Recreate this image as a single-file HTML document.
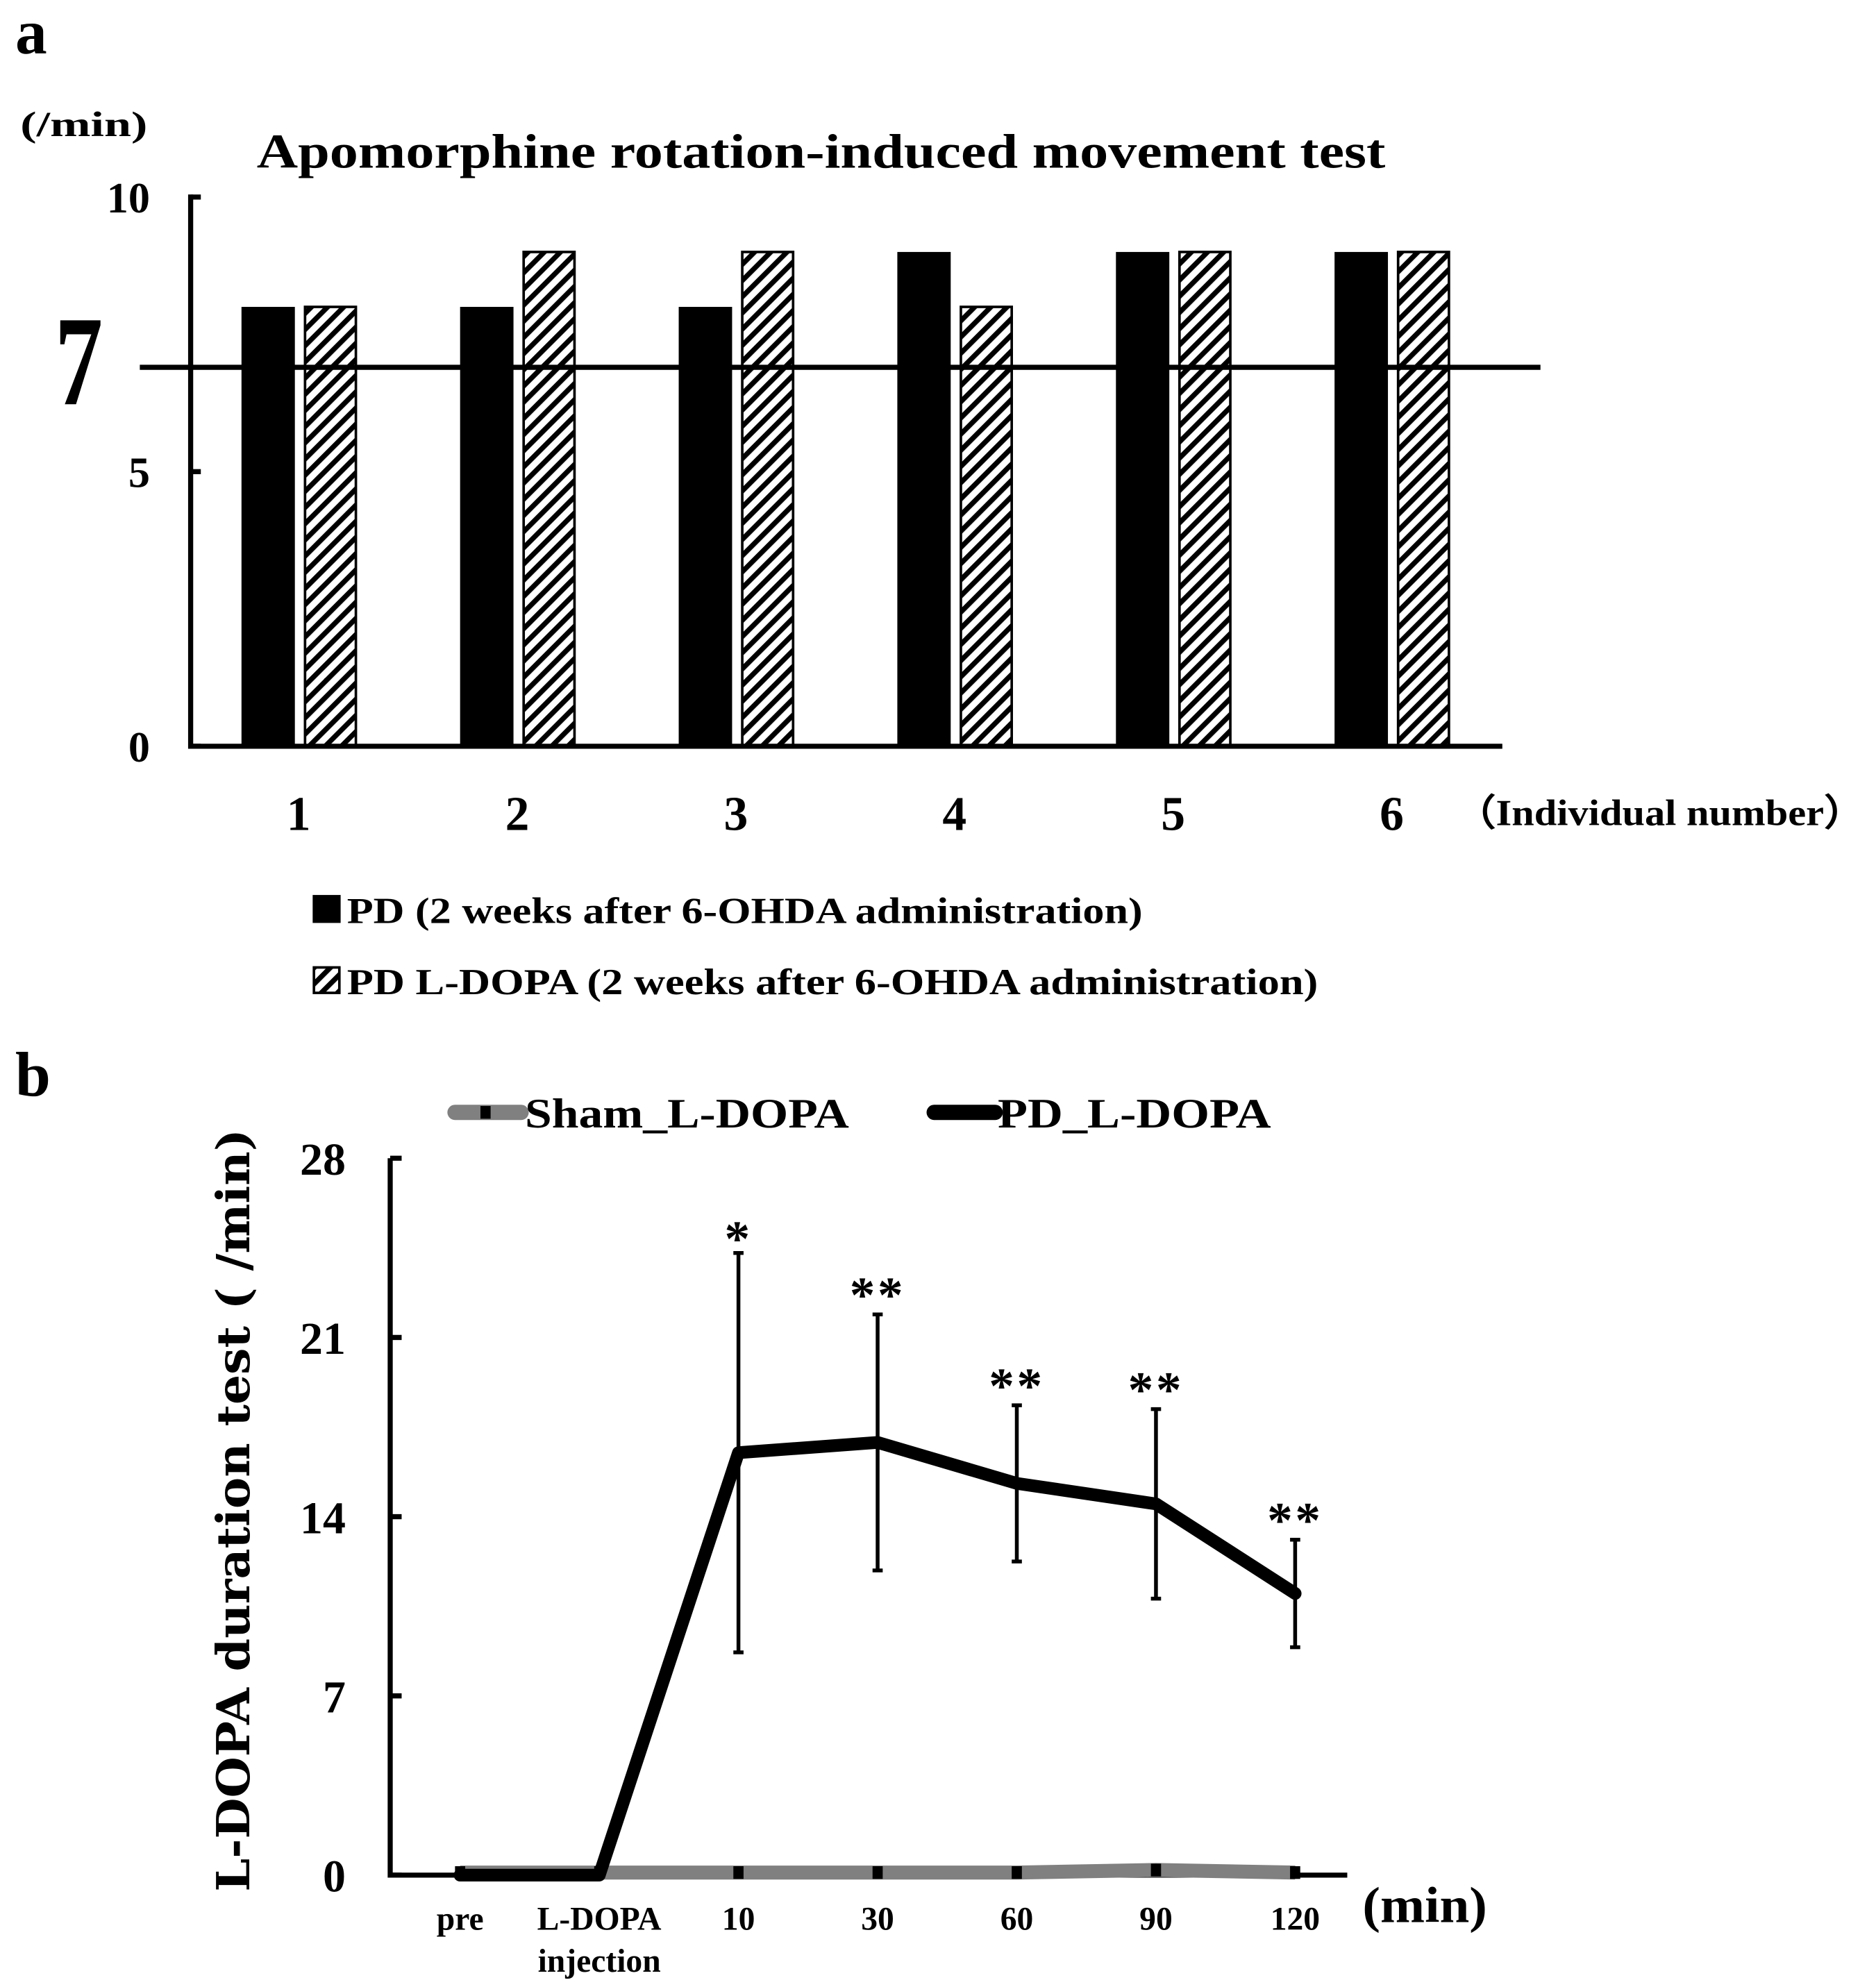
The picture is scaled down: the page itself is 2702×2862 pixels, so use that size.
<!DOCTYPE html>
<html><head><meta charset="utf-8"><style>
html,body{margin:0;padding:0;background:#fff}
svg{display:block}
text{font-family:"Liberation Serif",serif;font-weight:bold;fill:#000}
</style></head><body>
<svg id="fig" width="2702" height="2862" viewBox="0 0 1476 1563" preserveAspectRatio="none" xmlns="http://www.w3.org/2000/svg">
<defs>
<pattern id="hatch" patternUnits="userSpaceOnUse" width="9" height="9" patternTransform="rotate(45)">
<rect width="9" height="9" fill="#fff"/><rect width="4" height="9" fill="#000"/>
</pattern>
</defs>
<text x="12" y="42" font-size="50">a</text>
<text x="12" y="862" font-size="50">b</text>
<g id="pa">
<text x="16" y="107" font-size="28" textLength="100" lengthAdjust="spacingAndGlyphs">(/min)</text>
<text x="646" y="132" font-size="38" text-anchor="middle" textLength="888" lengthAdjust="spacingAndGlyphs">Apomorphine rotation-induced movement test</text>
<text transform="translate(62,318) scale(0.9,1.2)" font-size="84" text-anchor="middle">7</text>
<text x="1145" y="649" font-size="29" textLength="322" lengthAdjust="spacingAndGlyphs">（Individual number）</text>
<rect x="246" y="704" width="22" height="22" fill="#000"/>
<text x="273" y="726" font-size="29" textLength="626" lengthAdjust="spacingAndGlyphs">PD (2 weeks after 6-OHDA administration)</text>
<rect x="247" y="761" width="20" height="20" fill="url(#hatch)" stroke="#000" stroke-width="2"/>
<text x="273" y="782" font-size="29" textLength="764" lengthAdjust="spacingAndGlyphs">PD L-DOPA (2 weeks after 6-OHDA administration)</text>
</g>
<g id="pb">
<text transform="translate(196,1188) rotate(-90)" font-size="36" text-anchor="middle" textLength="600" lengthAdjust="spacingAndGlyphs" style="font-family:'DejaVu Serif','Liberation Serif',serif">L-DOPA duration test ( /min)</text>
<text x="1072" y="1512" font-size="40" textLength="98" lengthAdjust="spacingAndGlyphs">(min)</text>
<line x1="358" y1="875" x2="410" y2="875" stroke="#808080" stroke-width="12" stroke-linecap="round"/>
<rect x="378" y="870" width="8" height="10" fill="#000"/>
<text x="413" y="887" font-size="33" textLength="255" lengthAdjust="spacingAndGlyphs">Sham_L-DOPA</text>
<line x1="735" y1="875" x2="783" y2="875" stroke="#000" stroke-width="12" stroke-linecap="round"/>
<text x="785" y="887" font-size="33" textLength="215" lengthAdjust="spacingAndGlyphs">PD_L-DOPA</text>
</g>
</svg>
<script>
const NS='http://www.w3.org/2000/svg';
// Panel a data
const individuals=['1','2','3','4','5','6'];
const pdValues=[8,8,8,9,9,9];
const pdLdopaValues=[8,9,9,8,9,9];
const aTicks=[0,5,10];
const threshold=6.9;
// Panel b data
const timeLabels=['pre','L-DOPA','10','30','60','90','120'];
const pdLine=[0,0,16.5,16.9,15.3,14.5,11.0];
const pdErr=[0,0,7.8,5.0,3.05,3.7,2.1];
const shamLine=[0.1,0.1,0.1,0.1,0.1,0.2,0.1];
const stars=['','','*','**','**','**','**'];
const bTicks=[0,7,14,21,28];

function mk(tag,attrs,parent){const e=document.createElementNS(NS,tag);for(const k in attrs)e.setAttribute(k,attrs[k]);parent.appendChild(e);return e;}
const pa=document.getElementById('pa'), pb=document.getElementById('pb');

const ay=v=>587-v*43.2;
const ax=i=>235+i*172;
let e;
individuals.forEach((lab,i)=>{
  e=mk('rect',{x:ax(i)-45,y:ay(pdValues[i]),width:42,height:587-ay(pdValues[i]),fill:'#000'},pa);
  
  
  e=mk('rect',{x:ax(i)+5,y:ay(pdLdopaValues[i]),width:40,height:587-ay(pdLdopaValues[i]),fill:'url(#hatch)',stroke:'#000','stroke-width':2},pa);
  
  
  e=mk('text',{x:ax(i),y:653,'font-size':38,'text-anchor':'middle'},pa);
  e.textContent=lab;
  
  
});
e=mk('line',{x1:110,y1:ay(threshold),x2:1212,y2:ay(threshold),stroke:'#000','stroke-width':4},pa);


e=mk('path',{d:`M150,${ay(10)-2} V587 H1182`,stroke:'#000','stroke-width':4,fill:'none'},pa);


aTicks.forEach(t=>{
  e=mk('line',{x1:150,y1:ay(t),x2:158,y2:ay(t),stroke:'#000','stroke-width':4},pa);
  
  
  e=mk('text',{x:118,y:ay(t)+12,'font-size':34,'text-anchor':'end'},pa);
  e.textContent=t;
  
  
});

const by=v=>1475-v*20.14;
const bx=i=>362+i*109.5;
e=mk('path',{d:`M307,${by(28)} V1475 H1060`,stroke:'#000','stroke-width':4,fill:'none'},pb);


bTicks.forEach(t=>{
  e=mk('line',{x1:307,y1:by(t),x2:316,y2:by(t),stroke:'#000','stroke-width':4},pb);
  
  
  e=mk('text',{x:272,y:by(t)+13,'font-size':36,'text-anchor':'end'},pb);
  e.textContent=t;
  
  
});
timeLabels.forEach((lab,i)=>{
  e=mk('text',{x:bx(i),y:1518,'font-size':26,'text-anchor':'middle'},pb);
  e.textContent=lab;
  
  
});
e=mk('text',{x:bx(1),y:1551,'font-size':26,'text-anchor':'middle'},pb);
e.textContent='injection';


e=mk('polyline',{points:shamLine.map((v,i)=>bx(i)+','+by(v)).join(' '),fill:'none',stroke:'#808080','stroke-width':11,'stroke-linejoin':'round'},pb);


shamLine.forEach((v,i)=>{
  e=mk('rect',{x:bx(i)-4,y:by(v)-5,width:8,height:10,fill:'#000'},pb);
  
  
});
pdLine.forEach((v,i)=>{
  if(!pdErr[i])return;
  e=mk('path',{d:`M${bx(i)},${by(v+pdErr[i])} V${by(v-pdErr[i])} M${bx(i)-4},${by(v+pdErr[i])} H${bx(i)+4} M${bx(i)-4},${by(v-pdErr[i])} H${bx(i)+4}`,stroke:'#000','stroke-width':3,fill:'none'},pb);
  
  
  e=mk('text',{x:bx(i),y:by(v+pdErr[i])+(stars[i].length==1?2:-2),'font-size':40,'text-anchor':'middle','letter-spacing':'2'},pb);
  e.textContent=stars[i];
  
  
});
e=mk('polyline',{points:pdLine.map((v,i)=>bx(i)+','+by(v)).join(' '),fill:'none',stroke:'#000','stroke-width':10,'stroke-linejoin':'round','stroke-linecap':'round'},pb);


</script>
</body></html>
